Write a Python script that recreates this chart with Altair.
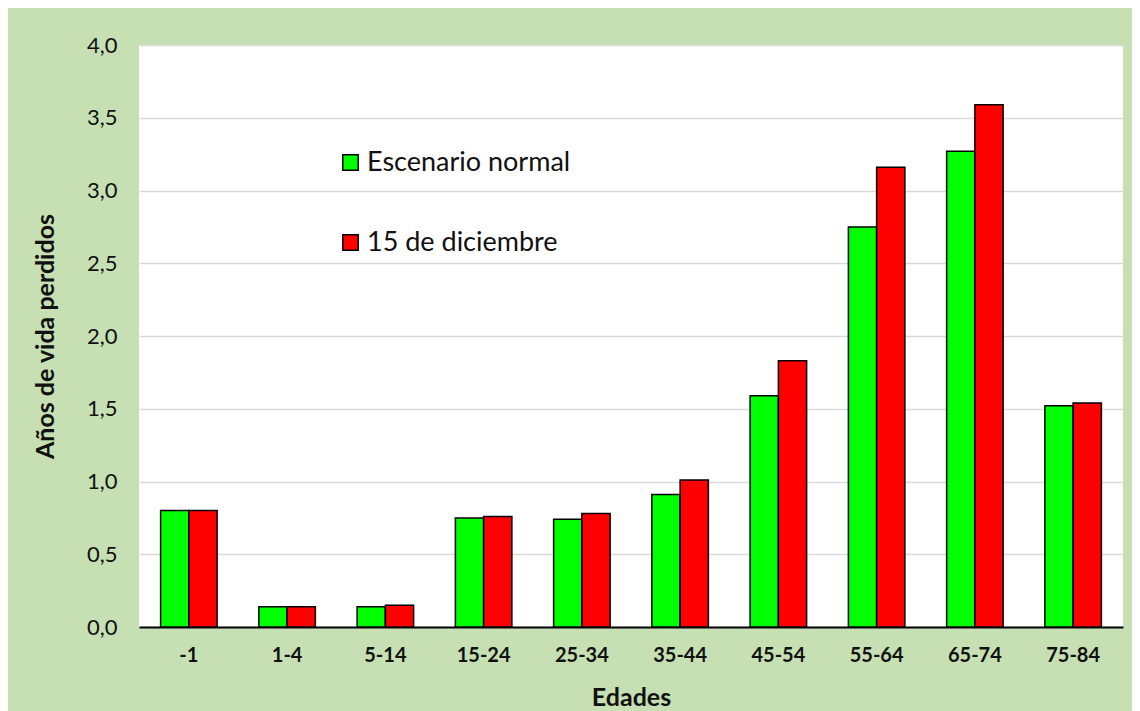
import altair as alt
import pandas as pd

edades = ["-1", "1-4", "5-14", "15-24", "25-34", "35-44", "45-54", "55-64", "65-74", "75-84"]
normal = [0.80, 0.14, 0.14, 0.75, 0.74, 0.91, 1.59, 2.75, 3.27, 1.52]
diciembre = [0.80, 0.14, 0.15, 0.76, 0.78, 1.01, 1.83, 3.16, 3.59, 1.54]
series = ["Escenario normal", "15 de diciembre"]
colors = ["#00FF00", "#FF0000"]

rows = []
for e, a, b in zip(edades, normal, diciembre):
    rows.append({"Edad": e, "Serie": series[0], "Valor": a})
    rows.append({"Edad": e, "Serie": series[1], "Valor": b})
df = pd.DataFrame(rows)

FONT = "Lato"

chart = alt.Chart(df).mark_bar(stroke="black", strokeWidth=1.5).encode(
    x=alt.X("Edad:N", sort=edades,
            scale=alt.Scale(paddingInner=0.425, paddingOuter=0.22),
            axis=alt.Axis(title="Edades", labelAngle=0, labelFontWeight="bold",
                          labelFontSize=20, labelColor="#111111", labelPadding=18,
                          ticks=False, domainColor="black", domainWidth=2,
                          titleFontSize=25, titleFontWeight="bold", titlePadding=20,
                          titleColor="#111111", labelFont=FONT, titleFont=FONT)),
    xOffset=alt.XOffset("Serie:N", sort=series),
    y=alt.Y("Valor:Q",
            scale=alt.Scale(domain=[0, 4], nice=False),
            axis=alt.Axis(title="Años de vida perdidos", values=[0, 0.5, 1, 1.5, 2, 2.5, 3, 3.5, 4],
                          labelExpr="replace(format(datum.value, '.1f'), '.', ',')",
                          labelFontSize=22, labelColor="#111111", labelPadding=22,
                          ticks=False, domain=False, grid=True, gridColor="#D9D9D9",
                          gridWidth=1.5, titleFontSize=25, titleFontWeight="bold",
                          titlePadding=28, titleColor="#111111",
                          labelFont=FONT, titleFont=FONT)),
    color=alt.Color("Serie:N", sort=series,
                    scale=alt.Scale(domain=series, range=colors),
                    legend=alt.Legend(title=None, orient="none", legendX=198, legendY=104,
                                      symbolType="square", symbolSize=240,
                                      symbolStrokeColor="black", symbolStrokeWidth=1.5,
                                      labelFontSize=27, labelFont=FONT, labelColor="#111111",
                                      rowPadding=52, labelLimit=400, labelOffset=3)),
).properties(
    width=984,
    height=582,
    background="#C6E0B4",
    padding={"left": 131, "top": 37, "right": 9, "bottom": 84},
    autosize=alt.AutoSizeParams(type="none"),
).configure_view(fill="white", stroke=None)

chart.save("out.html", embed_options={"renderer": "svg", "actions": False})
